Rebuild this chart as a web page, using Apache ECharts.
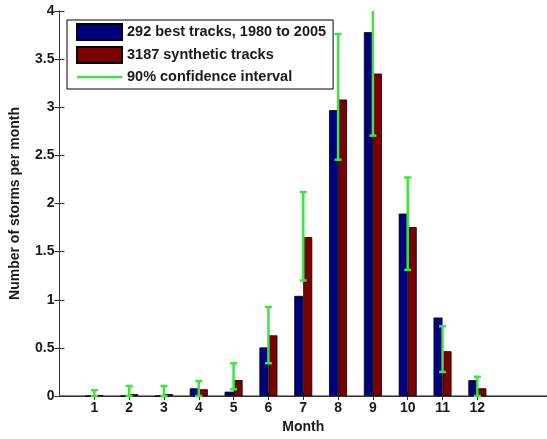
<!DOCTYPE html>
<html><head><meta charset="utf-8">
<script src="https://cdn.jsdelivr.net/npm/echarts@6/dist/echarts.min.js"></script>
<style>html,body{margin:0;padding:0;background:#fff}#c{width:547px;height:439px}</style>
</head><body><div id="c"></div>
<script>
const months = [1,2,3,4,5,6,7,8,9,10,11,12];
const bestTracks = [0.00,0.00,0.00,0.08,0.045,0.505,1.04,2.97,3.78,1.895,0.815,0.165];
const syntheticTracks = [0.01,0.02,0.02,0.07,0.165,0.63,1.65,3.08,3.35,1.755,0.465,0.08];
const ciLow = [0,0,0,0,0.07,0.34,1.2,2.455,2.705,1.31,0.25,0];
const ciHigh = [0.06,0.105,0.105,0.155,0.34,0.925,2.12,3.76,4.05,2.27,0.725,0.2];
const seriesNames = ['292 best tracks, 1980 to 2005','3187 synthetic tracks','90% confidence interval'];

const FONT = '"Liberation Sans", Arial, sans-serif';
const GREEN = '#3ce63c';
const AX = '#333';

const chart = echarts.init(document.getElementById('c'), null, {renderer:'canvas'});
const txt = {fontFamily: FONT, fontWeight: 'bold', fontSize: 14, color: '#1a1a1a'};

chart.setOption({
  animation: false,
  backgroundColor: '#fff',
  grid: {left: 59.5, top: 11, width: 490, height: 387.5, containLabel: false},
  legend: {
    orient: 'vertical', left: 67, top: 20, padding: [3, 7, 4, 9],
    itemWidth: 45, itemHeight: 16, itemGap: 5,
    borderColor: '#000', borderWidth: 1, backgroundColor: '#fff',
    selectedMode: false, symbolKeepAspect: true,
    textStyle: {fontFamily: FONT, fontWeight: 'bold', fontSize: 14.5, color: '#1a1a1a', lineHeight: 16},
    data: [
      {name: seriesNames[0], icon: 'rect'},
      {name: seriesNames[1], icon: 'rect'},
      {name: seriesNames[2], icon: 'path://M0,0H45V2.5H0Z'}
    ]
  },
  xAxis: [{
    type: 'value', min: 0, max: 14, interval: 1, position: 'bottom',
    name: 'Month', nameLocation: 'middle', nameGap: 24, nameTextStyle: txt,
    axisLine: {show: true, lineStyle: {color: '#666', width: 1.5}},
    axisTick: {show: true, inside: true, length: 4, customValues: months, lineStyle: {color: AX}},
    axisLabel: Object.assign({margin: 5, customValues: months}, txt),
    splitLine: {show: false}
  }, {
    type: 'value', min: 0, max: 14, interval: 1, position: 'top',
    axisLine: {show: true, lineStyle: {color: AX, width: 1}},
    axisTick: {show: true, inside: true, length: 4, customValues: months, lineStyle: {color: AX}},
    axisLabel: {show: false},
    splitLine: {show: false}
  }],
  yAxis: [{
    type: 'value', min: 0, max: 4, interval: 0.5, position: 'left',
    name: 'Number of storms per month', nameLocation: 'middle', nameGap: 37, nameTextStyle: txt,
    axisLine: {show: true, lineStyle: {color: AX, width: 1}},
    axisTick: {show: true, inside: true, length: 5, lineStyle: {color: AX}},
    axisLabel: Object.assign({margin: 5}, txt),
    splitLine: {show: false}
  }, {
    type: 'value', min: 0, max: 4, interval: 0.5, position: 'right',
    axisLine: {show: true, lineStyle: {color: AX, width: 1}},
    axisTick: {show: true, inside: true, length: 5, lineStyle: {color: AX}},
    axisLabel: {show: false},
    splitLine: {show: false}
  }],
  series: [{
    name: seriesNames[0], type: 'bar', xAxisIndex: 0, yAxisIndex: 0,
    barWidth: 9, barGap: '0%',
    itemStyle: {color: '#00007f', borderColor: '#000', borderWidth: 0.8},
    data: months.map((m, i) => [m, bestTracks[i]])
  }, {
    name: seriesNames[1], type: 'bar', xAxisIndex: 0, yAxisIndex: 0,
    barWidth: 9, barGap: '0%',
    itemStyle: {color: '#7a0000', borderColor: '#000', borderWidth: 0.8},
    data: months.map((m, i) => [m, syntheticTracks[i]])
  }, {
    name: seriesNames[2], type: 'line', xAxisIndex: 0, yAxisIndex: 0,
    symbol: 'none', lineStyle: {color: GREEN, width: 2.5}, itemStyle: {color: GREEN},
    data: []
  }, {
    name: 'ci', type: 'custom', xAxisIndex: 0, yAxisIndex: 0, z: 5,
    encode: {x: 0, y: [1, 2]},
    data: months.map((m, i) => [m, ciLow[i], ciHigh[i]]),
    renderItem: function (params, api) {
      const x = api.value(0);
      const lo = api.coord([x, api.value(1)]);
      const hi = api.coord([x, api.value(2)]);
      const top = params.coordSys.y;
      const hiY = Math.max(hi[1], top);
      const st = {stroke: GREEN, lineWidth: 2.5};
      const cw = 3.5;
      const children = [
        {type: 'line', shape: {x1: lo[0], y1: lo[1], x2: lo[0], y2: hiY}, style: st},
        {type: 'line', shape: {x1: lo[0] - cw, y1: lo[1], x2: lo[0] + cw, y2: lo[1]}, style: st}
      ];
      if (hi[1] >= top) {
        children.push({type: 'line', shape: {x1: hi[0] - cw, y1: hi[1], x2: hi[0] + cw, y2: hi[1]}, style: st});
      }
      return {type: 'group', children: children};
    }
  }]
});
</script>
</body></html>
